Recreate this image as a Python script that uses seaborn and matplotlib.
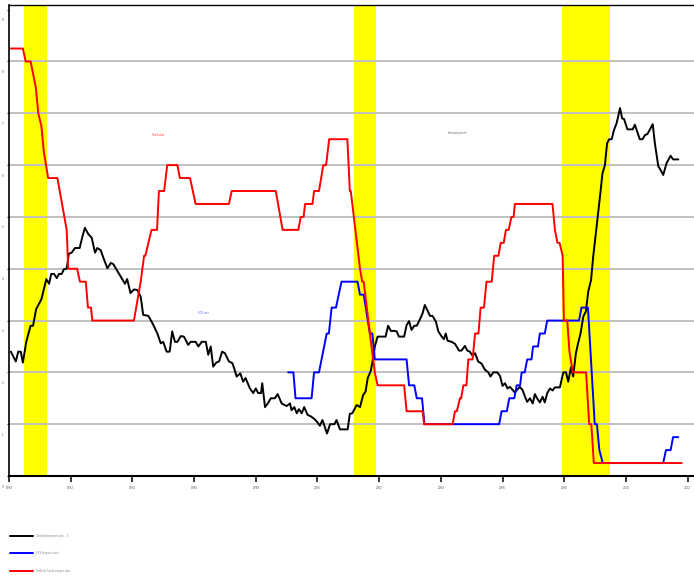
import matplotlib

matplotlib.use("Agg")

import matplotlib.pyplot as plt
import matplotlib.transforms as mtransforms
import pandas as pd
import seaborn as sns

# black series (traced)
unemp_years = [
    1990.06, 1990.22, 1990.30, 1990.38, 1990.45, 1990.56, 1990.70, 1990.78, 1990.88, 1991.05,
    1991.21, 1991.30, 1991.37, 1991.46, 1991.55, 1991.62, 1991.71, 1991.78, 1991.87, 1991.94,
    1992.03, 1992.14, 1992.29, 1992.38, 1992.46, 1992.57, 1992.68, 1992.79, 1992.86, 1992.97,
    1993.08, 1993.19, 1993.30, 1993.38, 1993.51, 1993.67, 1993.76, 1993.83, 1993.94, 1994.05,
    1994.16, 1994.27, 1994.35, 1994.52, 1994.65, 1994.81, 1994.92, 1995.00, 1995.11, 1995.21,
    1995.29, 1995.38, 1995.46, 1995.57, 1995.67, 1995.81, 1995.89, 1996.05, 1996.14, 1996.25,
    1996.38, 1996.46, 1996.54, 1996.62, 1996.72, 1996.81, 1996.91, 1997.00, 1997.13, 1997.24,
    1997.30, 1997.38, 1997.50, 1997.59, 1997.67, 1997.81, 1997.92, 1998.00, 1998.08, 1998.17,
    1998.21, 1998.30, 1998.39, 1998.49, 1998.62, 1998.71, 1998.84, 1999.00, 1999.11, 1999.16,
    1999.25, 1999.33, 1999.40, 1999.49, 1999.57, 1999.68, 1999.79, 1999.92, 2000.01, 2000.08,
    2000.16, 2000.22, 2000.31, 2000.41, 2000.55, 2000.62, 2000.73, 2000.87, 2000.98, 2001.05,
    2001.13, 2001.27, 2001.38, 2001.48, 2001.56, 2001.63, 2001.73, 2001.79, 2001.86, 2001.95,
    2002.08, 2002.21, 2002.29, 2002.38, 2002.49, 2002.57, 2002.64, 2002.73, 2002.81, 2002.89,
    2002.97, 2003.05, 2003.14, 2003.22, 2003.32, 2003.41, 2003.48, 2003.57, 2003.65, 2003.73,
    2003.84, 2003.92, 2004.03, 2004.10, 2004.16, 2004.22, 2004.35, 2004.46, 2004.59, 2004.67,
    2004.78, 2004.86, 2004.94, 2005.03, 2005.11, 2005.21, 2005.32, 2005.43, 2005.54, 2005.61,
    2005.70, 2005.83, 2005.92, 2006.00, 2006.08, 2006.16, 2006.24, 2006.33, 2006.40, 2006.48,
    2006.56, 2006.65, 2006.73, 2006.80, 2006.89, 2006.98, 2007.05, 2007.12, 2007.21, 2007.30,
    2007.37, 2007.45, 2007.54, 2007.62, 2007.70, 2007.86, 2007.97, 2008.06, 2008.13, 2008.22,
    2008.29, 2008.38, 2008.45, 2008.53, 2008.62, 2008.70, 2008.78, 2008.87, 2008.94, 2009.05,
    2009.16, 2009.24, 2009.32, 2009.39, 2009.46, 2009.54, 2009.61, 2009.70, 2009.81, 2009.88,
    2009.94, 2010.05, 2010.13, 2010.22, 2010.29, 2010.38, 2010.45, 2010.54, 2010.62, 2010.70,
    2010.78, 2010.87, 2010.94, 2011.05, 2011.12, 2011.21, 2011.32, 2011.45, 2011.53, 2011.70,
]
unemp_values = [
    2.40, 2.21, 2.40, 2.40, 2.19, 2.59, 2.90, 2.90, 3.22, 3.41,
    3.80, 3.71, 3.90, 3.90, 3.82, 3.90, 3.90, 3.99, 4.00, 4.29,
    4.31, 4.40, 4.40, 4.62, 4.79, 4.67, 4.60, 4.31, 4.40, 4.36,
    4.18, 4.01, 4.11, 4.09, 3.96, 3.80, 3.71, 3.80, 3.53, 3.60,
    3.59, 3.46, 3.11, 3.09, 2.95, 2.75, 2.56, 2.59, 2.40, 2.40,
    2.79, 2.59, 2.59, 2.70, 2.69, 2.53, 2.59, 2.59, 2.50, 2.59,
    2.59, 2.34, 2.50, 2.11, 2.19, 2.21, 2.40, 2.37, 2.21, 2.18,
    2.08, 1.92, 1.98, 1.82, 1.89, 1.69, 1.60, 1.69, 1.60, 1.60,
    1.79, 1.33, 1.40, 1.50, 1.50, 1.58, 1.40, 1.35, 1.40, 1.27,
    1.33, 1.21, 1.29, 1.21, 1.33, 1.18, 1.15, 1.09, 1.03, 0.97,
    1.08, 0.98, 0.82, 1.00, 1.00, 1.08, 0.90, 0.90, 0.90, 1.20,
    1.21, 1.37, 1.33, 1.56, 1.63, 1.89, 2.03, 2.23, 2.50, 2.69,
    2.69, 2.69, 2.90, 2.80, 2.80, 2.79, 2.69, 2.69, 2.69, 2.91,
    2.99, 2.82, 2.90, 2.90, 3.02, 3.14, 3.30, 3.19, 3.09, 3.09,
    2.98, 2.79, 2.69, 2.64, 2.75, 2.61, 2.59, 2.55, 2.42, 2.42,
    2.51, 2.42, 2.40, 2.32, 2.37, 2.21, 2.17, 2.05, 2.00, 1.92,
    2.00, 2.00, 1.93, 1.74, 1.79, 1.69, 1.72, 1.66, 1.61, 1.67,
    1.72, 1.66, 1.53, 1.43, 1.50, 1.40, 1.58, 1.50, 1.42, 1.53,
    1.42, 1.60, 1.69, 1.65, 1.71, 1.71, 2.00, 2.00, 1.82, 2.10,
    1.92, 2.37, 2.56, 2.75, 3.08, 3.17, 3.56, 3.78, 4.23, 4.81,
    5.39, 5.84, 6.00, 6.42, 6.50, 6.50, 6.67, 6.81, 7.10, 6.90,
    6.89, 6.69, 6.69, 6.69, 6.78, 6.62, 6.50, 6.50, 6.58, 6.60,
    6.69, 6.79, 6.42, 5.98, 5.91, 5.81, 6.04, 6.18, 6.11, 6.11,
]

# blue series
ecb_years = [
    1999.05, 1999.22, 1999.29, 1999.81, 1999.89, 2000.05, 2000.30, 2000.37, 2000.46, 2000.60,
    2000.78, 2001.30, 2001.38, 2001.50, 2001.70, 2001.78, 2001.86, 2002.89, 2002.97, 2003.14,
    2003.22, 2003.39, 2003.47, 2005.89, 2005.97, 2006.14, 2006.22, 2006.38, 2006.46, 2006.57,
    2006.62, 2006.72, 2006.80, 2006.94, 2006.99, 2007.15, 2007.21, 2007.37, 2007.45, 2008.48,
    2008.56, 2008.77, 2008.99, 2009.06, 2009.14, 2009.25, 2011.21, 2011.30, 2011.45, 2011.53,
    2011.70,
]
ecb_rate = [
    2.00, 2.00, 1.50, 1.50, 2.00, 2.00, 2.75, 2.75, 3.25, 3.25,
    3.75, 3.75, 3.50, 3.50, 2.75, 2.75, 2.25, 2.25, 1.75, 1.75,
    1.50, 1.50, 1.00, 1.00, 1.25, 1.25, 1.50, 1.50, 1.75, 1.75,
    2.00, 2.00, 2.25, 2.25, 2.50, 2.50, 2.75, 2.75, 3.00, 3.00,
    3.25, 3.25, 1.00, 1.00, 0.50, 0.25, 0.25, 0.50, 0.50, 0.75,
    0.75,
]

# red series
fed_years = [
    1990.05, 1990.45, 1990.54, 1990.70, 1990.87, 1990.95, 1991.05, 1991.13, 1991.27, 1991.57,
    1991.87, 1991.92, 1992.21, 1992.30, 1992.49, 1992.56, 1992.66, 1992.70, 1994.05, 1994.27,
    1994.38, 1994.42, 1994.62, 1994.80, 1994.86, 1995.03, 1995.13, 1995.46, 1995.54, 1995.87,
    1996.05, 1997.13, 1997.22, 1998.65, 1998.87, 1999.38, 1999.46, 1999.55, 1999.60, 1999.84,
    1999.89, 2000.05, 2000.19, 2000.28, 2000.38, 2000.97, 2001.05, 2001.08, 2001.38, 2001.45,
    2001.50, 2001.70, 2001.86, 2001.95, 2002.81, 2002.89, 2003.41, 2003.46, 2004.38, 2004.46,
    2004.52, 2004.62, 2004.66, 2004.73, 2004.83, 2004.89, 2005.03, 2005.11, 2005.22, 2005.29,
    2005.40, 2005.48, 2005.65, 2005.73, 2005.87, 2005.94, 2006.04, 2006.11, 2006.20, 2006.29,
    2006.36, 2006.40, 2007.62, 2007.70, 2007.78, 2007.85, 2007.95, 2007.99, 2008.10, 2008.17,
    2008.28, 2008.71, 2008.81, 2008.88, 2008.96, 2011.81,
]
fed_rate = [
    8.25, 8.25, 8.00, 8.00, 7.50, 7.00, 6.75, 6.25, 5.75, 5.75,
    4.75, 4.00, 4.00, 3.75, 3.75, 3.25, 3.25, 3.00, 3.00, 3.75,
    4.25, 4.25, 4.75, 4.75, 5.50, 5.50, 6.00, 6.00, 5.75, 5.75,
    5.25, 5.25, 5.50, 5.50, 4.75, 4.75, 5.00, 5.00, 5.25, 5.25,
    5.50, 5.50, 6.00, 6.00, 6.50, 6.50, 5.50, 5.50, 4.00, 3.75,
    3.75, 2.75, 2.00, 1.75, 1.75, 1.25, 1.25, 1.00, 1.00, 1.25,
    1.25, 1.50, 1.50, 1.75, 1.75, 2.25, 2.25, 2.75, 2.75, 3.25,
    3.25, 3.75, 3.75, 4.25, 4.25, 4.50, 4.50, 4.75, 4.75, 5.00,
    5.00, 5.25, 5.25, 4.75, 4.50, 4.50, 4.25, 3.00, 3.00, 2.40,
    2.00, 2.00, 1.00, 1.00, 0.25, 0.25,
]

recession_start = [1990.50, 2001.17, 2007.92]
recession_end = [1991.23, 2001.90, 2009.48]

series_labels = ["Unemployment rate - 3", "ECB deposit rate", "Federal funds target rate"]
note_labels = ["Fed funds", "Unemployment", "ECB rate"]
note_x = [1994.64, 2004.23, 1996.13]
note_y = [6.58, 6.62, 3.15]

x_ticks = list(range(1990, 2013, 2))
y_ticks = list(range(0, 10))
grid_levels = list(range(1, 9))

unemp = pd.DataFrame({"year": unemp_years, "value": unemp_values})
ecb = pd.DataFrame({"year": ecb_years, "value": ecb_rate})
fed = pd.DataFrame({"year": fed_years, "value": fed_rate})

sns.set_style("white")
plt.rcParams["font.family"] = ["DejaVu Sans"]

fig = plt.figure(figsize=(6.94, 5.78), dpi=100)
ax = fig.add_axes([9 / 694, 1 - 476 / 578, 1.0, 471 / 578])

for start, end in zip(recession_start, recession_end):
    ax.axvspan(start, end, color="#ffff00", lw=0, zorder=0)
for level in grid_levels:
    ax.axhline(level, color="#c0c0c0", lw=1.4, zorder=0.5)

lines = []
for df, color in [(unemp, "black"), (ecb, "#0000ff"), (fed, "#ff0000")]:
    sns.lineplot(data=df, x="year", y="value", color=color, lw=1.4,
                 estimator=None, sort=False, ax=ax)
    lines.append(ax.lines[-1])

note_colors = ["#ff3030", "#606060", "#6060ff"]
for txt, xx, yy, c in zip(note_labels, note_x, note_y, note_colors):
    ax.text(xx, yy, txt, fontsize=1.8, color=c, va="center", ha="left")

ax.set_xlim(1990, 2012.5)
ax.set_ylim(0, 9.09)
ax.set_xticks(x_ticks)
ax.set_xticklabels([str(v) for v in x_ticks])
ax.set_yticks(y_ticks)
ax.set_yticklabels([str(v) for v in y_ticks])
ax.set_xlabel("")
ax.set_ylabel("")
ax.tick_params(axis="x", bottom=True, direction="out", length=4.3, width=1.1,
               color="black", labelsize=2, labelcolor="#555555", pad=3)
ax.tick_params(axis="y", left=True, direction="out", length=1.5, width=0.8,
               color="#333333", labelsize=2, labelcolor="#555555", pad=2.5)
shift = mtransforms.ScaledTranslation(0, -0.1, fig.dpi_scale_trans)
for lab in ax.get_yticklabels():
    lab.set_transform(lab.get_transform() + shift)

for side in ["left", "top", "bottom"]:
    ax.spines[side].set_color("black")
ax.spines["left"].set_linewidth(1.2)
ax.spines["bottom"].set_linewidth(1.5)
ax.spines["top"].set_linewidth(1.0)
ax.spines["right"].set_visible(False)

fig.legend(lines, series_labels, loc="upper left",
           bbox_to_anchor=(10 / 694, 1 - 533.5 / 578), frameon=False,
           fontsize=2, handlelength=8.3, handletextpad=1.0, labelspacing=4.9,
           borderpad=0, borderaxespad=0, labelcolor="#888888")

fig.savefig("out.png", dpi=100)
plt.close(fig)
